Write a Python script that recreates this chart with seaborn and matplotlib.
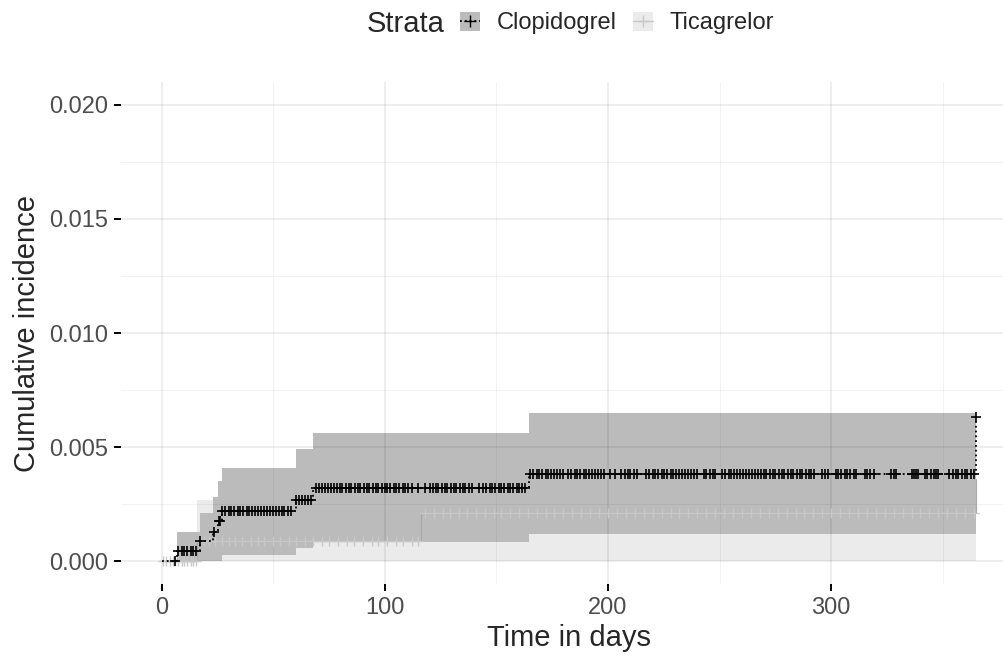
import numpy as np
import pandas as pd
import matplotlib
matplotlib.use("Agg")
import matplotlib.pyplot as plt
from matplotlib.patches import Patch
from matplotlib.lines import Line2D
from matplotlib.ticker import MultipleLocator
import seaborn as sns

# step data
clop_time = [0, 7, 17, 23, 25, 27, 60, 68, 164.5, 365]
clop_est = [0, 0.00044, 0.00088, 0.0013, 0.00175, 0.0022, 0.0027, 0.0032, 0.0038, 0.0063]
clop_ci_time = [0, 7, 17, 23, 25, 27, 60, 68, 164.5, 365]
clop_upper = [0, 0.0013, 0.0021, 0.0028, 0.0035, 0.0041, 0.0049, 0.0056, 0.0065, 0.0065]
clop_lower = [0, 0, 0, 0, 0, 0.00026, 0.00057, 0.00083, 0.00118, 0.00118]

tica_time = [0, 16, 116, 365]
tica_est = [0, 0.0009, 0.0021, 0.0036]
tica_ci_time = [0, 16, 116, 365]
tica_upper = [0, 0.0027, 0.0045, 0.0045]
tica_lower = [0, 0, 0, 0]

clop_censor = [6, 7.5, 9, 10, 11.5, 13, 14, 15.5, 17, 23.5, 25.5, 26,
               27, 28.5, 30, 31, 32.5, 34, 35, 36.5, 38, 39, 40.5, 42, 43, 44.5, 46, 47, 48.5,
               50, 51, 52.5, 54, 55, 56.5, 58, 60, 61.5, 63, 64, 65.5, 67,
               69, 70.5, 72, 73, 74.5, 76, 77, 78.5, 80, 81, 82.5, 84, 85, 86.5, 88, 89, 90.5,
               92, 93, 94.5, 96, 97, 98.5, 100, 101, 102.5, 104, 105, 106.5, 108, 109, 110.5,
               112, 115, 118, 120, 121.5, 123, 124, 125.5, 127, 128, 129.5, 131, 132, 133.5,
               135, 136, 137.5, 139, 142, 144, 145.5, 147, 148, 149.5, 151, 152, 153.5, 155,
               156, 157.5, 159, 160, 161.5, 163,
               165, 166.5, 168, 169, 170.5, 172, 173, 174.5, 176, 177, 178.5, 180, 182, 183.5,
               185, 186, 187.5, 189, 190, 191.5, 193, 194, 195.5, 197, 198, 201, 203, 206,
               207.5, 209, 210, 211.5, 213, 217, 218.5, 220, 221, 222.5, 224, 225, 226.5, 228,
               229, 230.5, 232, 233, 234.5, 236, 237, 238.5, 240, 243, 244, 245.5, 247, 248,
               251, 252.5, 254, 255, 256.5, 258, 259, 260.5, 262, 263, 264.5, 266, 267, 268.5,
               270, 271, 272.5, 274, 275, 276.5, 278, 279, 280.5, 282, 283, 284.5, 286, 287,
               288.5, 290, 291, 292.5, 296, 297, 298.5, 302, 303, 304.5, 306, 307, 308.5, 310,
               311, 315, 316, 317.5, 319, 327, 328, 329, 336, 337, 338, 339, 342, 343, 344.5,
               346, 347, 348, 353, 354.5, 356, 357, 358.5, 360, 361, 362.5, 364]
clop_last_censor = 365
tica_censor = [0.5, 2, 3.5, 5, 6, 7.5, 9, 10, 11.5, 13, 14, 15.5,
               17, 19, 21, 24, 27, 30, 33, 36, 40, 43, 46, 50, 53, 57, 60, 64, 68, 72, 75, 79,
               83, 86, 90, 94, 97, 101, 105, 108, 112, 115,
               118, 122, 126, 129, 133, 137, 141, 145, 149, 152, 156, 160, 164, 168, 172, 176,
               180, 184, 188, 192, 196, 200, 204, 208, 212, 216, 220, 224, 228, 232, 236, 240,
               244, 248, 252, 256, 260, 264, 268, 272, 276, 280, 284, 288, 292, 296, 300, 304,
               308, 312, 316, 320, 324, 328, 332, 336, 340, 344, 348, 352, 356, 360, 364]

x_ticks = [0, 100, 200, 300]
y_ticks = [0.000, 0.005, 0.010, 0.015, 0.020]
strata = ["Clopidogrel", "Ticagrelor"]


def step_value(times, values, t):
    idx = np.searchsorted(times, t, side="right") - 1
    return np.asarray(values)[idx]


sns.set_theme(style="white")
plt.rcParams["font.family"] = ["Liberation Sans", "DejaVu Sans"]

fig = plt.figure(figsize=(10.04, 6.59), dpi=100)
ax = fig.add_axes([121 / 1004, 1 - 584 / 659, (1017 - 121) / 1004, (584 - 82) / 659])

band_dark = "#BBBBBB"
band_light = "#EBEBEB"
tica_col = "#C8C8C8"

# confidence bands
ax.fill_between(tica_ci_time, tica_lower, tica_upper, step="post", color=band_light, lw=0, zorder=1)
ax.fill_between(clop_ci_time, clop_lower, clop_upper, step="post",
                color=band_dark, lw=0, zorder=1.2)

# estimates
lines = pd.DataFrame({
    "time": clop_time + tica_time,
    "est": clop_est + tica_est,
    "strata": ["Clopidogrel"] * len(clop_time) + ["Ticagrelor"] * len(tica_time),
})
sns.lineplot(data=lines[lines.strata == "Ticagrelor"], x="time", y="est", drawstyle="steps-post",
             color="#A8A8A8", lw=0.8, ax=ax, zorder=3, legend=False)
sns.lineplot(data=lines[lines.strata == "Clopidogrel"], x="time", y="est", drawstyle="steps-post",
             color="black", lw=1.3, ls=":", ax=ax, zorder=4, legend=False)

cens = pd.DataFrame({
    "time": clop_censor + [clop_last_censor] + tica_censor,
    "est": list(step_value(clop_time, clop_est, np.array(clop_censor))) + [clop_est[-1]]
           + list(step_value(tica_time, tica_est, np.array(tica_censor))),
    "strata": ["Clopidogrel"] * (len(clop_censor) + 1) + ["Ticagrelor"] * len(tica_censor),
})
sns.scatterplot(data=cens[cens.strata == "Ticagrelor"], x="time", y="est", marker="+",
                color=tica_col, s=45, linewidth=1.0, ax=ax, zorder=3.5, legend=False)
sns.scatterplot(data=cens[cens.strata == "Clopidogrel"], x="time", y="est", marker="+",
                color="black", s=55, linewidth=1.2, ax=ax, zorder=5, legend=False)

ax.set_xlim(-18.25, 383.25)
ax.set_ylim(-0.001, 0.021)
ax.set_xticks(x_ticks)
ax.set_yticks(y_ticks)
ax.set_yticklabels([f"{v:.3f}" for v in y_ticks])
ax.xaxis.set_minor_locator(MultipleLocator(50))
ax.yaxis.set_minor_locator(MultipleLocator(0.0025))
ax.set_axisbelow(False)
ax.grid(which="major", color="black", alpha=0.075, lw=1.3)
ax.grid(which="minor", color="black", alpha=0.055, lw=0.65)
for s in ax.spines.values():
    s.set_visible(False)
ax.tick_params(axis="both", which="major", left=True, bottom=True, length=5, width=1.4,
               color="black", labelsize=17, labelcolor="#4D4D4D", pad=4)
ax.tick_params(which="minor", left=False, bottom=False)
ax.set_xlabel("Time in days", fontsize=21, labelpad=4)
ax.set_ylabel("Cumulative incidence", fontsize=21, labelpad=6)

# legend on top
handles = [
    (Patch(facecolor=band_dark, edgecolor="none"),
     Line2D([], [], color="black", ls=":", lw=1.3, marker="+", markersize=8)),
    (Patch(facecolor=band_light, edgecolor="none"),
     Line2D([], [], color=tica_col, lw=1.0, marker="+", markersize=8)),
]
fig.text(406 / 1004, 1 - 24 / 659, "Strata", fontsize=21, ha="center", va="center")
fig.legend(handles, strata, loc="center left", bbox_to_anchor=(460 / 1004, 1 - 23 / 659),
           ncol=2, frameon=False, fontsize=17, handlelength=0.85, handleheight=0.85,
           handletextpad=0.7, columnspacing=0.7, borderpad=0, borderaxespad=0)

fig.savefig("out.png", dpi=100)
